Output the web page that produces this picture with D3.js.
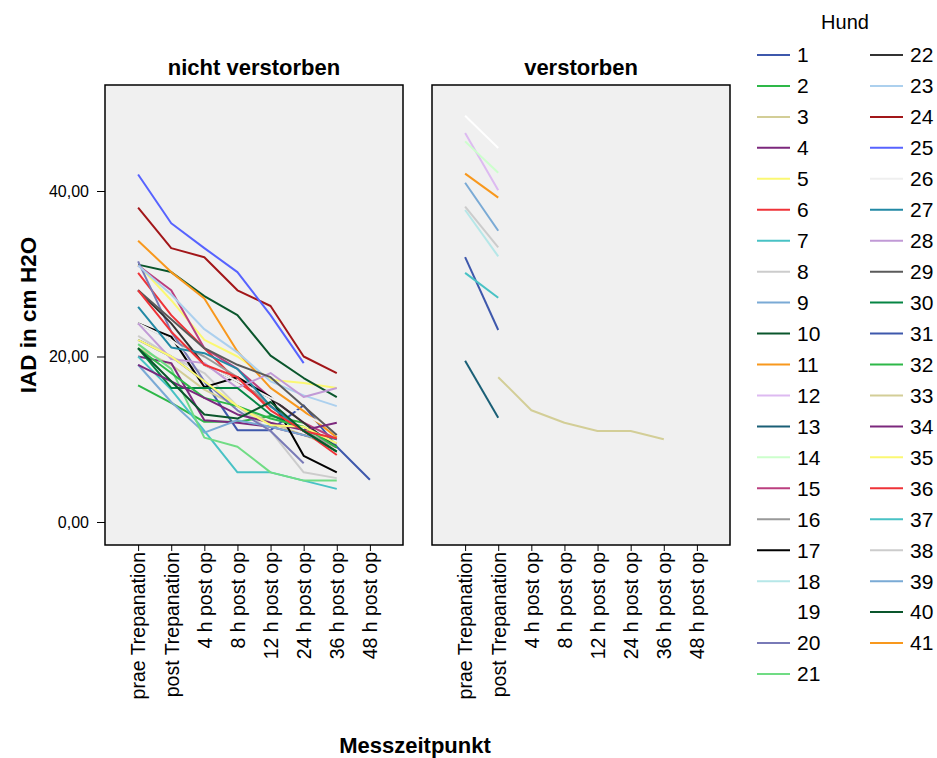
<!DOCTYPE html>
<html>
<head>
<meta charset="utf-8">
<script src="https://cdn.jsdelivr.net/npm/d3@7"></script>
<style>
  html, body { margin: 0; padding: 0; background: #fff; }
  svg { display: block; font-family: Arial, "Liberation Sans", sans-serif; }
</style>
</head>
<body>
<svg id="chart" width="937" height="758"></svg>
<script>
// Measurement times (x categories)
const timepoints = ["prae Trepanation", "post Trepanation", "4 h post op", "8 h post op",
                    "12 h post op", "24 h post op", "36 h post op", "48 h post op"];

// Panel labels
const panels = ["nicht verstorben", "verstorben"];

// Dog ids and which ones died
const dogs = d3.range(1, 42);
const deceased = [12, 13, 14, 18, 19, 31, 33, 37, 38, 39, 41];

// Line colours per dog (index = dog - 1)
const dogColors = [
  "#3e58ac", "#2eb848", "#d3ce97", "#7c287d", "#fbf873", "#ef3338", "#48c2c5", "#cccccc",
  "#7aaad5", "#0a562c", "#f8981d", "#ddbaf1", "#1a5f76", "#ccffcc", "#bb3f7f", "#999999",
  "#010101", "#b6e7e8", "#ffffff", "#797ab7", "#70dc84", "#333333", "#acd0ee", "#a21619",
  "#5763ff", "#efefef", "#2289a5", "#c19ad6", "#5a5a5a", "#068544", "#3e58ac", "#2eb848",
  "#d3ce97", "#7c287d", "#fbf873", "#ef3338", "#48c2c5", "#cccccc", "#7aaad5", "#0a562c",
  "#f8981d"
];

// IAD (cm H2O) per dog, one value per time point (null = not measured)
const iad = [
  /* 1 */  [22.0, 20.0, 17.0, 11.1, 11.1, 14.1, 9.1, 5.1],
  /* 2 */  [16.5, 14.4, 12.1, 12.1, 12.8, 12.0, 9.0, null],
  /* 3 */  [21.0, 19.0, 16.0, 14.0, 12.0, 10.5, 9.0, null],
  /* 4 */  [20.0, 19.2, 12.3, 12.0, 11.5, 10.5, 9.5, null],
  /* 5 */  [31.1, 26.8, 22.0, 20.0, 17.2, 16.8, 16.2, null],
  /* 6 */  [30.1, 25.0, 21.0, 17.0, 14.0, 11.0, 8.1, null],
  /* 7 */  [20.0, 16.0, 11.0, 6.0, 6.0, 5.0, 4.0, null],
  /* 8 */  [22.5, 20.0, 18.0, 14.0, 11.0, 6.0, 5.3, null],
  /* 9 */  [19.0, 14.5, 10.8, 12.3, 11.5, 10.5, 9.5, null],
  /* 10 */ [31.1, 30.2, 27.3, 25.0, 20.1, 17.4, 15.1, null],
  /* 11 */ [34.0, 30.2, 27.0, 20.6, 16.2, 13.4, 10.2, null],
  /* 12 */ [47.0, 40.1, null, null, null, null, null, null],
  /* 13 */ [19.5, 12.6, null, null, null, null, null, null],
  /* 14 */ [46.0, 42.2, null, null, null, null, null, null],
  /* 15 */ [31.0, 28.0, 21.0, 18.5, 15.0, 12.0, 10.0, null],
  /* 16 */ [24.0, 22.0, 20.0, 17.5, 14.0, 11.0, 9.0, null],
  /* 17 */ [24.0, 22.4, 16.3, 17.5, 15.1, 8.0, 6.0, null],
  /* 18 */ [37.7, 32.1, null, null, null, null, null, null],
  /* 19 */ [49.1, 45.2, null, null, null, null, null, null],
  /* 20 */ [31.5, 23.0, 17.0, 13.5, 11.0, 7.1, null, null],
  /* 21 */ [21.5, 18.5, 10.2, 9.1, 6.0, 5.0, 5.0, null],
  /* 22 */ [28.0, 24.0, 19.0, 17.0, 15.0, 12.0, 9.0, null],
  /* 23 */ [31.0, 27.5, 23.3, 20.5, 17.0, 15.3, 14.0, null],
  /* 24 */ [38.0, 33.1, 32.0, 28.0, 26.1, 20.0, 18.0, null],
  /* 25 */ [42.0, 36.1, 33.1, 30.2, 25.0, 19.2, null, null],
  /* 26 */ [24.0, 22.0, 19.0, 17.0, 15.0, 13.0, 11.0, null],
  /* 27 */ [26.0, 21.1, 20.4, 18.5, 14.0, 11.0, 10.0, null],
  /* 28 */ [24.0, 19.7, 19.2, 16.2, 18.0, 15.1, 16.2, null],
  /* 29 */ [28.0, 24.5, 21.0, 19.0, 17.5, 14.0, 10.5, null],
  /* 30 */ [21.0, 16.2, 16.2, 16.2, 13.0, 11.0, 8.5, null],
  /* 31 */ [32.0, 23.2, null, null, null, null, null, null],
  /* 32 */ [21.0, 18.0, 15.0, 14.0, 12.5, 11.5, 9.0, null],
  /* 33 */ [null, 17.5, 13.5, 12.0, 11.0, 11.0, 10.0, null],
  /* 34 */ [19.0, 17.0, 15.0, 13.0, 12.0, 11.1, 12.0, null],
  /* 35 */ [22.0, 20.0, 17.0, 14.0, 11.7, 11.5, 9.5, null],
  /* 36 */ [28.0, 23.0, 19.0, 17.5, 13.5, 11.0, 10.1, null],
  /* 37 */ [30.1, 27.1, null, null, null, null, null, null],
  /* 38 */ [38.1, 33.2, null, null, null, null, null, null],
  /* 39 */ [41.0, 35.2, null, null, null, null, null, null],
  /* 40 */ [21.0, 17.0, 13.0, 12.5, 14.5, 11.0, 8.5, null],
  /* 41 */ [42.1, 39.2, null, null, null, null, null, null]
];

// Y axis ticks
const yTicks = [0, 20, 40];

// ---- layout ----
const svg = d3.select("#chart");
const panelTop = 85, panelBottom = 545;
const panelLeft = [105, 432];
const panelWidth = 298;

const y = d3.scaleLinear().domain([-2.78, 52.81]).range([panelBottom, panelTop]);
const yFmt = d => d3.format(".2f")(d).replace(".", ",");

const line = d3.line()
  .defined(d => d.v != null)
  .x(d => d.x)
  .y(d => y(d.v));

panels.forEach((name, pi) => {
  const x0 = panelLeft[pi];
  const x = d3.scalePoint().domain(timepoints).range([x0, x0 + panelWidth]).padding(1);
  const g = svg.append("g");

  g.append("rect")
    .attr("x", x0).attr("y", panelTop)
    .attr("width", panelWidth).attr("height", panelBottom - panelTop)
    .attr("fill", "#f0f0f0");

  // panel title
  g.append("text")
    .attr("x", x0 + panelWidth / 2).attr("y", 75)
    .attr("text-anchor", "middle")
    .attr("font-weight", "bold").attr("font-size", 22)
    .text(name);

  // dog lines
  const members = dogs.filter(d => (deceased.includes(d) ? 1 : 0) === pi);
  members.forEach(dog => {
    const pts = iad[dog - 1].map((v, i) => ({ x: x(timepoints[i]), v }));
    g.append("path")
      .attr("d", line(pts))
      .attr("fill", "none")
      .attr("stroke", dogColors[dog - 1])
      .attr("stroke-width", 2)
      .attr("stroke-linejoin", "round");
  });

  // x axis
  const xAxis = g.append("g")
    .attr("transform", `translate(0,${panelBottom})`)
    .call(d3.axisBottom(x).tickSize(6).tickSizeOuter(0));
  xAxis.select(".domain").remove();
  xAxis.selectAll("line").attr("stroke", "#000");
  xAxis.selectAll("text")
    .attr("font-size", 19.5)
    .attr("fill", "#000")
    .attr("transform", "rotate(-90)")
    .attr("text-anchor", "end")
    .attr("x", -7).attr("y", 0).attr("dy", "0.35em");

  // frame
  g.append("rect")
    .attr("x", x0).attr("y", panelTop)
    .attr("width", panelWidth).attr("height", panelBottom - panelTop)
    .attr("fill", "none").attr("stroke", "#000").attr("stroke-width", 1.5);
});

// y axis on the left panel
const yAxis = svg.append("g")
  .attr("transform", `translate(${panelLeft[0]},0)`)
  .call(d3.axisLeft(y).tickValues(yTicks).tickFormat(yFmt).tickSize(8).tickSizeOuter(0));
yAxis.select(".domain").remove();
yAxis.selectAll("line").attr("stroke", "#000");
yAxis.selectAll("text").attr("font-size", 16).attr("fill", "#000").attr("x", -16);

// axis titles
svg.append("text")
  .attr("transform", `translate(36,${(panelTop + panelBottom) / 2}) rotate(-90)`)
  .attr("text-anchor", "middle")
  .attr("font-weight", "bold").attr("font-size", 22.5)
  .text("IAD in cm H2O");

svg.append("text")
  .attr("x", 415).attr("y", 753)
  .attr("text-anchor", "middle")
  .attr("font-weight", "bold").attr("font-size", 22)
  .text("Messzeitpunkt");

// legend
const legend = svg.append("g");
legend.append("text")
  .attr("x", 845).attr("y", 29)
  .attr("text-anchor", "middle").attr("font-size", 20)
  .text("Hund");
const rowsPerCol = 21;
const legendRow = d3.scaleLinear().domain([0, 20]).range([55, 674]);
dogs.forEach((dog, i) => {
  const col = Math.floor(i / rowsPerCol), row = i % rowsPerCol;
  const lx = col === 0 ? 757 : 870;
  const ly = legendRow(row);
  legend.append("line")
    .attr("x1", lx).attr("x2", lx + 33)
    .attr("y1", ly).attr("y2", ly)
    .attr("stroke", dogColors[dog - 1]).attr("stroke-width", 2);
  legend.append("text")
    .attr("x", lx + 40).attr("y", ly).attr("dy", "0.35em")
    .attr("font-size", 21)
    .text(dog);
});
</script>
</body>
</html>
